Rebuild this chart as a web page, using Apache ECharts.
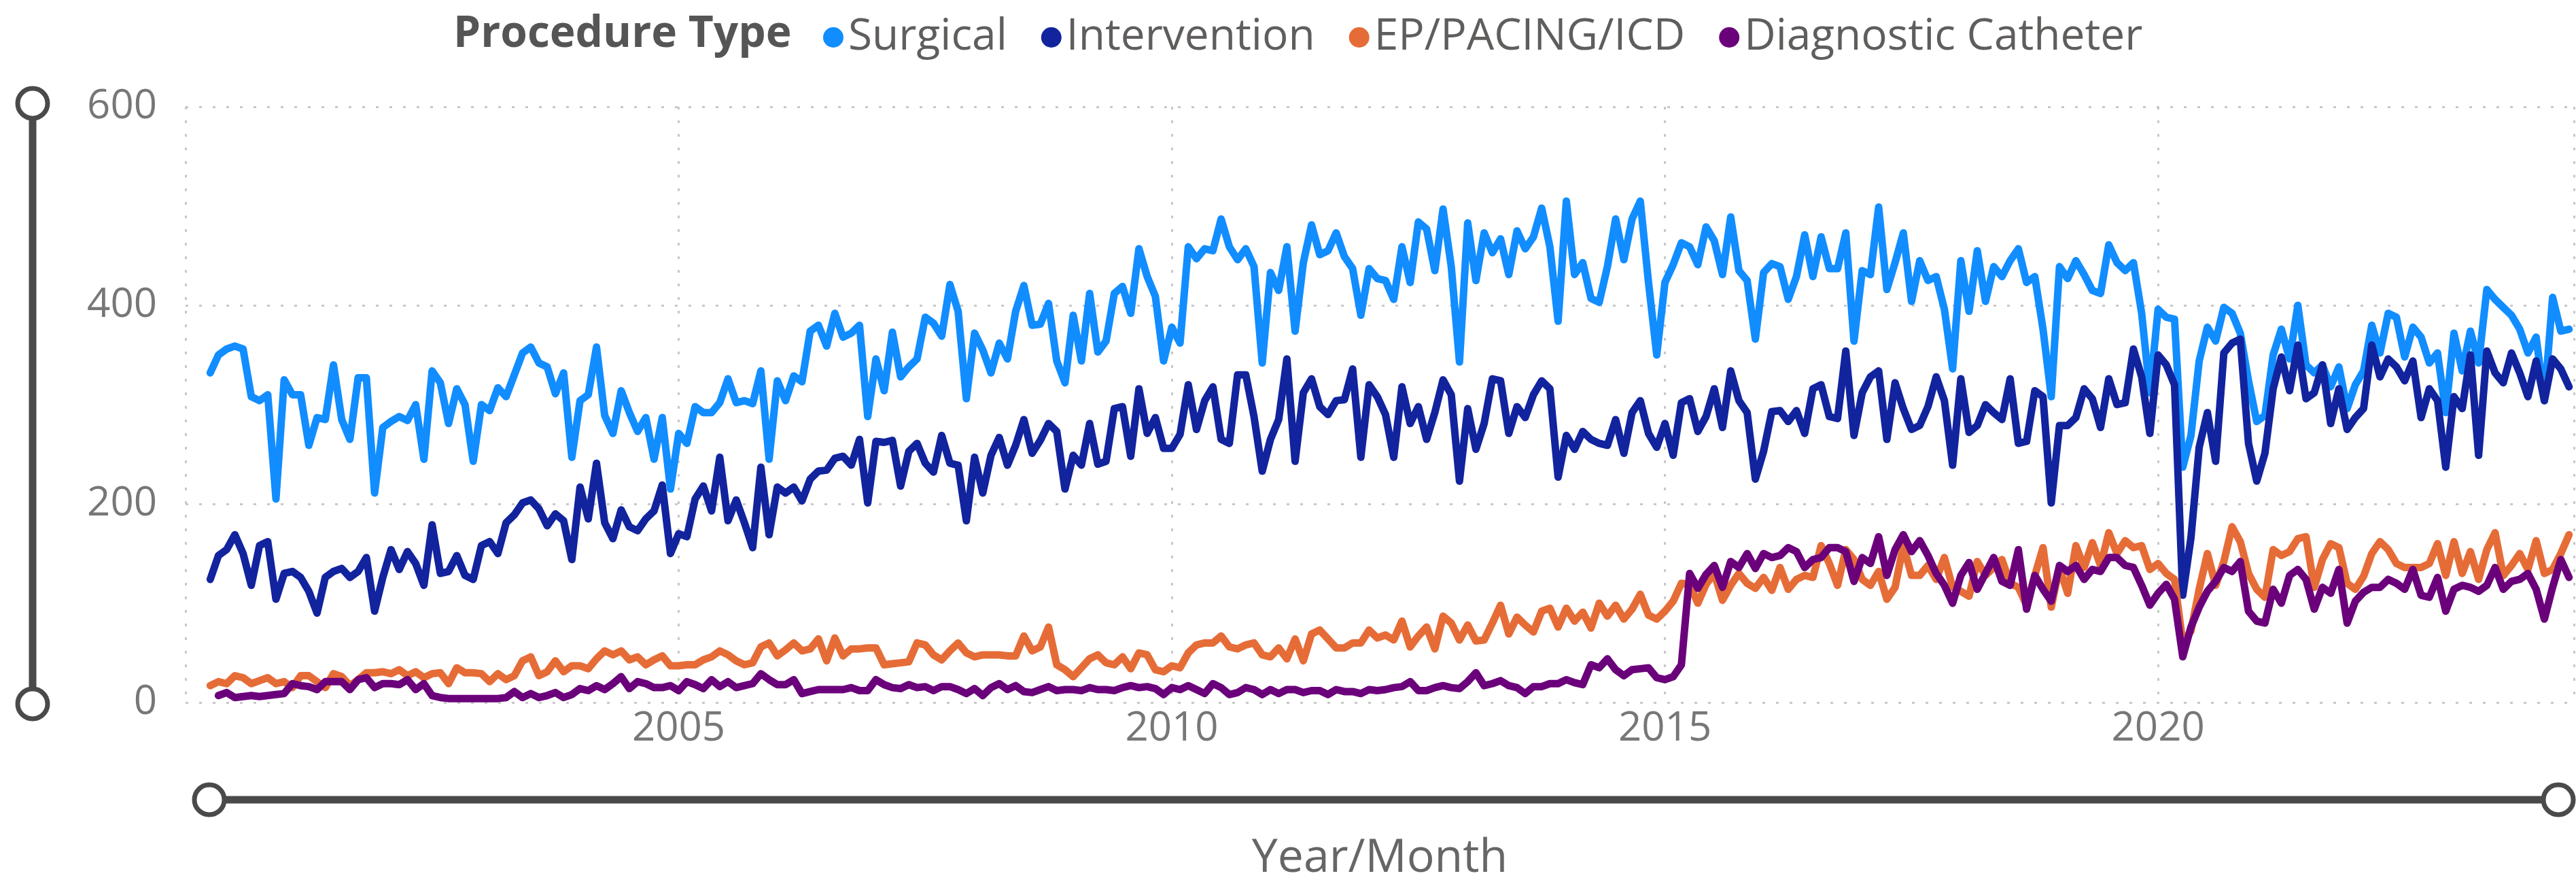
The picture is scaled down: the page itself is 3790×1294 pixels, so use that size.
<!DOCTYPE html>
<html><head><meta charset="utf-8">
<script src="https://cdn.jsdelivr.net/npm/echarts@6/dist/echarts.min.js"></script>
<style>html,body{margin:0;padding:0;background:#fff}#c{width:3790px;height:1294px}</style>
</head><body><div id="c"></div>
<script>
// Months: April 2000 .. March 2024 (288 monthly points)
const firstYear = 2000, firstMonth = 4, monthCount = 288;
const months = [];
for (let k = 0; k < monthCount; k++) {
  const m = firstMonth - 1 + k;
  months.push(String(firstYear + Math.floor(m / 12)) + '-' + String(m % 12 + 1).padStart(2, '0'));
}
const seriesNames = ['Surgical', 'Intervention', 'EP/PACING/ICD', 'Diagnostic Catheter'];
const seriesColors = ['#118DFF', '#12239E', '#E66C37', '#6B007B'];
const yTicks = [0, 200, 400, 600];

const surgical = [
332,350,356,359,356,308,304,310,205,325,310,310,259,287,285,340,285,265,327,327,211,277,283,
288,284,300,245,334,322,281,316,300,243,300,294,317,308,330,352,358,342,338,311,332,247,304,310,
358,289,271,314,292,273,287,245,287,215,271,261,298,292,292,302,326,302,304,301,334,245,324,304,
329,323,374,380,359,392,368,372,380,288,346,314,373,328,338,346,388,382,369,421,394,306,372,355,
332,362,346,394,420,380,381,402,344,322,390,344,412,353,364,412,419,392,457,429,409,344,378,362,
459,447,457,455,487,459,446,457,439,342,433,415,459,374,443,481,451,455,473,449,437,390,437,427,
425,406,459,423,484,477,435,497,439,343,483,425,473,453,467,431,475,457,469,498,459,384,505,431,
443,407,403,439,487,446,487,505,423,350,423,441,463,459,441,479,465,431,489,435,425,366,433,442,
439,406,429,471,429,469,437,437,473,364,435,431,499,416,443,473,404,445,425,429,396,336,445,394,
455,404,439,429,445,457,423,429,376,308,439,427,445,431,415,412,461,443,435,443,392,312,396,388,
386,237,269,344,378,364,398,392,372,324,283,289,350,376,346,400,340,332,340,318,338,296,320,334,
380,352,392,388,348,378,368,342,352,292,372,334,374,342,416,406,398,390,376,352,368,304,408,374,376];

const intervention = [
124,148,154,169,150,118,158,162,104,130,132,126,112,90,126,132,135,126,132,146,92,126,154,
134,152,140,118,179,130,132,148,128,124,158,162,150,181,189,201,204,195,178,190,183,144,217,185,
241,181,165,194,177,173,185,193,219,150,170,167,205,218,193,247,183,204,181,156,237,169,217,211,
217,203,225,233,234,246,248,239,265,201,263,262,264,218,253,261,241,232,269,241,239,183,247,211,
249,267,239,259,285,251,264,281,273,215,249,239,281,240,243,296,298,248,316,271,287,256,256,270,
320,275,304,318,265,261,330,330,288,233,265,285,346,243,312,326,298,290,304,305,336,247,320,308,
290,247,318,281,298,265,292,325,310,223,296,255,281,326,324,271,298,287,310,324,316,227,269,255,
273,265,261,259,285,251,292,304,271,257,281,249,302,306,273,288,316,277,334,304,292,225,253,293,
294,283,294,271,316,320,288,286,354,269,312,328,334,265,322,296,275,279,298,328,304,239,326,272,
279,300,292,285,326,261,263,314,308,201,279,279,287,316,306,277,326,300,302,356,328,271,350,340,
320,108,166,257,292,243,352,362,366,261,223,251,316,348,314,360,306,312,340,281,316,275,287,296,
360,328,346,338,324,344,287,316,304,237,308,296,350,249,354,332,322,352,332,308,344,304,346,336,318];

const epPacing = [
17,21,19,27,25,19,22,25,19,21,15,27,27,21,15,29,26,17,23,30,30,31,29,
33,27,31,25,29,30,19,35,30,30,29,21,29,23,27,42,46,27,31,42,31,37,37,34,
44,52,48,52,43,46,38,43,47,37,37,38,38,43,46,52,48,42,38,40,56,60,47,53,
60,52,54,64,42,65,47,54,54,55,55,38,39,40,41,60,58,48,43,52,60,50,46,48,
48,48,47,47,67,52,56,76,38,33,26,35,44,48,40,38,46,34,50,48,33,31,37,35,
50,58,60,60,67,56,54,58,60,48,46,55,44,64,42,69,73,64,55,55,60,60,73,65,
68,63,82,56,67,76,54,87,80,63,78,62,63,80,98,69,86,78,71,92,95,76,95,82,
91,75,100,87,98,84,94,109,88,84,92,102,120,119,100,119,130,103,118,130,120,115,126,113,
136,114,124,128,126,158,140,118,154,144,124,118,132,104,116,158,128,128,138,124,146,116,112,107,
142,128,136,144,120,116,98,128,156,96,136,110,158,136,161,138,171,150,163,156,158,134,140,130,
124,60,72,114,150,118,142,177,162,130,114,106,154,148,152,165,167,116,144,160,156,120,114,127,
150,162,154,140,136,136,136,140,160,128,162,130,152,124,154,171,128,138,150,134,163,130,134,150,169];

const diagnostic = [
null,7,10,5,6,7,6,7,8,9,19,17,16,13,21,21,21,13,23,25,15,19,19,
18,23,13,19,7,5,4,4,4,4,4,4,4,5,11,5,9,5,7,10,5,8,14,12,
17,13,19,26,14,21,19,15,15,17,12,21,18,14,23,16,21,15,17,19,29,23,18,18,
23,9,11,13,13,13,13,15,12,12,23,18,15,14,18,15,16,12,16,16,13,9,14,7,
15,19,13,17,11,10,13,16,12,13,13,12,15,13,13,12,15,17,15,16,14,8,15,13,
17,13,9,19,15,8,10,15,13,8,13,9,13,13,10,12,12,8,13,11,11,9,13,12,
13,15,16,21,12,12,15,17,15,14,21,30,17,19,22,17,15,9,16,16,19,19,23,20,
18,38,35,44,33,27,33,34,35,25,23,26,38,130,115,129,138,116,142,136,150,135,150,146,
148,156,152,136,144,146,156,156,152,122,146,140,167,128,154,169,152,163,148,130,118,100,128,141,
114,130,146,122,118,154,94,128,114,102,138,132,138,124,134,132,146,146,138,136,118,98,110,119,
104,46,76,96,112,122,136,132,142,92,82,80,114,100,128,134,124,94,116,110,134,80,102,111,
116,116,124,120,114,134,108,106,126,92,114,118,116,112,118,136,114,122,124,130,114,84,116,144,126];

const valueLists = [surgical, intervention, epPacing, diagnostic];

const chart = echarts.init(document.getElementById('c'), null, {renderer: 'canvas'});
const FONT = '"Open Sans", "Noto Sans", sans-serif';
const dotted = {color: '#C8C8C8', width: 3, type: [4, 16]};

chart.setOption({
  animation: false,
  backgroundColor: '#ffffff',
  color: seriesColors,
  title: {
    text: 'Procedure Type', left: 662, top: 14,
    textStyle: {fontFamily: FONT, fontWeight: 'bold', fontSize: 64, color: '#555555'}
  },
  legend: {
    left: 1206, top: 18, icon: 'circle', itemWidth: 30, itemHeight: 30, itemGap: 50,
    textStyle: {fontFamily: FONT, fontSize: 64, color: '#605E5C', padding: [0, 0, 0, 2]},
    data: seriesNames
  },
  grid: {left: 273, right: 3, top: 157, bottom: 261, containLabel: false, outerBoundsMode: 'none'},
  xAxis: {
    type: 'value', min: -3, max: 287.6, interval: 60,
    name: 'Year/Month', nameLocation: 'middle', nameGap: 196,
    nameTextStyle: {fontFamily: FONT, fontSize: 68, color: '#666666'},
    axisLine: {show: false}, axisTick: {show: false},
    axisLabel: {
      fontFamily: FONT, fontSize: 60, color: '#777777', margin: 9,
      formatter: function (v) { const m = months[Math.round(v)]; return (v >= 0 && m) ? m.slice(0, 4) : ''; }
    },
    splitLine: {show: true, lineStyle: dotted}
  },
  yAxis: {
    type: 'value', min: 0, max: 600, interval: 200,
    axisLine: {show: false}, axisTick: {show: false},
    axisLabel: {fontFamily: FONT, fontSize: 60, color: '#777777', margin: 42},
    splitLine: {show: true, lineStyle: dotted}
  },
  series: valueLists.map(function (vals, s) {
    return {
      name: seriesNames[s], type: 'line', showSymbol: false, symbol: 'none',
      connectNulls: false,
      lineStyle: {width: 11, color: seriesColors[s], join: 'round', cap: 'round'},
      itemStyle: {color: seriesColors[s]},
      data: vals.map(function (v, i) { return [i, v]; })
    };
  }),
  graphic: [
    {type: 'line', shape: {x1: 48, y1: 157, x2: 48, y2: 1033}, style: {stroke: '#4A4A4A', lineWidth: 11}},
    {type: 'circle', shape: {cx: 48, cy: 152, r: 22}, style: {fill: '#ffffff', stroke: '#4A4A4A', lineWidth: 7}},
    {type: 'circle', shape: {cx: 48, cy: 1035, r: 22}, style: {fill: '#ffffff', stroke: '#4A4A4A', lineWidth: 7}},
    {type: 'line', shape: {x1: 310, y1: 1176, x2: 3768, y2: 1176}, style: {stroke: '#4A4A4A', lineWidth: 11}},
    {type: 'circle', shape: {cx: 308, cy: 1176, r: 22}, style: {fill: '#ffffff', stroke: '#4A4A4A', lineWidth: 7}},
    {type: 'circle', shape: {cx: 3764, cy: 1176, r: 22}, style: {fill: '#ffffff', stroke: '#4A4A4A', lineWidth: 7}}
  ]
});
</script></body></html>
